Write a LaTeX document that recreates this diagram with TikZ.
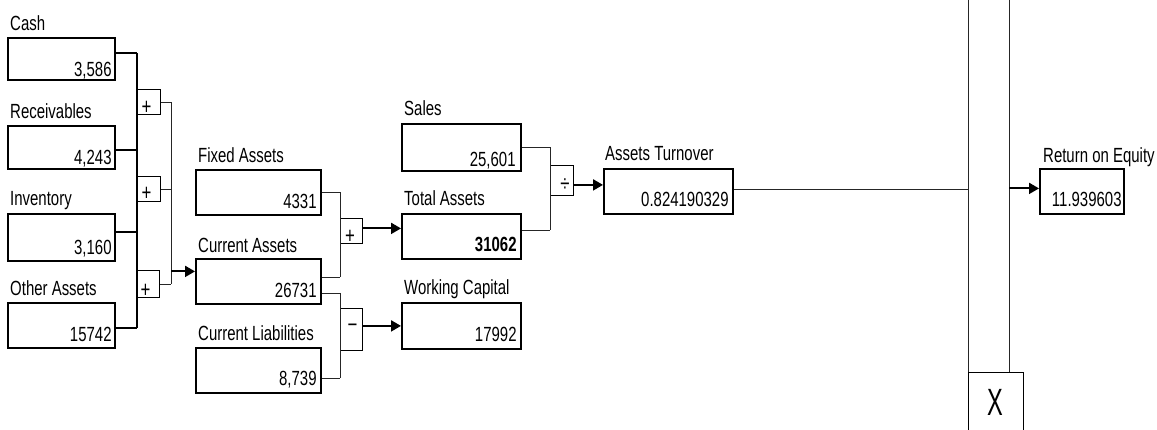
\documentclass[tikz,border=0pt]{standalone}
\usepackage{fontspec}
\setmainfont{Liberation Sans}[FakeStretch=0.73]
\usetikzlibrary{calc,arrows.meta}
\tikzset{
  valbox/.style={draw, line width=1.8pt, inner sep=0pt, anchor=north west},
  opbox/.style={draw, line width=1.1pt, inner sep=0pt, anchor=north west},
  ttl/.style={anchor=base west, inner sep=0pt},
  val/.style={anchor=base east, inner sep=0pt},
  opsym/.style={inner sep=0pt, font=\fontsize{23}{23}\selectfont},
  conn/.style={line width=1.3pt},
  busline/.style={line width=1.8pt},
  thinconn/.style={line width=0.8pt, black!85},
  arr/.style={line width=2pt, -{Triangle[length=10pt,width=11pt]}},
}
\begin{document}
\begin{tikzpicture}[x=1pt,y=-1pt,font=\fontsize{20.5}{22}\selectfont]
\clip (0,0) rectangle (1157,429);
% value boxes
\node[valbox, minimum width=107pt, minimum height=42pt] (cash) at (7,37) {};
\node[valbox, minimum width=107pt, minimum height=43pt] (recv) at (7,125) {};
\node[valbox, minimum width=107pt, minimum height=47pt] (inv) at (7,213) {};
\node[valbox, minimum width=107pt, minimum height=45pt] (oth) at (7,302) {};
\node[valbox, minimum width=125pt, minimum height=45pt] (fa) at (195,169) {};
\node[valbox, minimum width=125pt, minimum height=45pt] (ca) at (195,258) {};
\node[valbox, minimum width=125pt, minimum height=45pt] (cl) at (195,347) {};
\node[valbox, minimum width=119pt, minimum height=47pt] (sales) at (401,123) {};
\node[valbox, minimum width=119pt, minimum height=45pt] (ta) at (401,213) {};
\node[valbox, minimum width=119pt, minimum height=46pt] (wc) at (401,302) {};
\node[valbox, minimum width=129pt, minimum height=45pt] (turn) at (603,168) {};
\node[valbox, minimum width=84pt, minimum height=45pt] (roe) at (1039,168) {};
% titles
\node[ttl] (cashT) at ($(cash.north west)+(3,-7)$) {Cash};
\node[ttl] (recvT) at ($(recv.north west)+(3,-7)$) {Receivables};
\node[ttl] (invT) at ($(inv.north west)+(3,-8)$) {Inventory};
\node[ttl] (othT) at ($(oth.north west)+(3,-7)$) {Other Assets};
\node[ttl] (faT) at ($(fa.north west)+(3,-7)$) {Fixed Assets};
\node[ttl] (caT) at ($(ca.north west)+(3,-6)$) {Current Assets};
\node[ttl] (clT) at ($(cl.north west)+(3,-7)$) {Current Liabilities};
\node[ttl] (salesT) at ($(sales.north west)+(3,-8)$) {Sales};
\node[ttl] (taT) at ($(ta.north west)+(3,-8)$) {Total Assets};
\node[ttl] (wcT) at ($(wc.north west)+(3,-8)$) {Working Capital};
\node[ttl] (turnT) at ($(turn.north west)+(2,-8)$) {Assets Turnover};
\node[ttl] (roeT) at ($(roe.north west)+(4,-6)$) {Return on Equity};
% values
\node[val] (cashV) at ($(cash.south east)+(-4,-4)$) {3,586};
\node[val] (recvV) at ($(recv.south east)+(-4,-5)$) {4,243};
\node[val] (invV) at ($(inv.south east)+(-4,-7)$) {3,160};
\node[val] (othV) at ($(oth.south east)+(-4,-7)$) {15742};
\node[val] (faV) at ($(fa.south east)+(-5,-7)$) {4331};
\node[val] (caV) at ($(ca.south east)+(-5,-7)$) {26731};
\node[val] (clV) at ($(cl.south east)+(-5,-8)$) {8,739};
\node[val] (salesV) at ($(sales.south east)+(-6,-5)$) {25,601};
\node[val, font=\fontsize{20.5}{22}\selectfont\bfseries] (taV) at ($(ta.south east)+(-5,-8)$) {31062};
\node[val] (wcV) at ($(wc.south east)+(-5,-8)$) {17992};
\node[val] (turnV) at ($(turn.south east)+(-5,-8)$) {0.824190329};
\node[val] (roeV) at ($(roe.south east)+(-3,-8)$) {11.939603};
% operator boxes
\node[opbox, minimum width=23pt, minimum height=25pt] (p1) at (137,89) {};
\node[opbox, minimum width=23pt, minimum height=25pt] (p2) at (137,176) {};
\node[opbox, minimum width=22pt, minimum height=27pt] (p3) at (137,270) {};
\node[opbox, minimum width=22pt, minimum height=25pt] (pt) at (340,218) {};
\node[opbox, minimum width=22pt, minimum height=42pt] (mn) at (340,308) {};
\node[opbox, minimum width=23pt, minimum height=30pt] (dv) at (550,165) {};
\node[opbox, line width=0.9pt, minimum width=55pt, minimum height=70pt] (xb) at (968,372) {};
\node[opsym] (p1s) at ($(p1.south west)+(9.5,-7)$) {+};
\node[opsym] (p2s) at ($(p2.south west)+(9.5,-8.5)$) {+};
\node[opsym] (p3s) at ($(p3.south west)+(8.5,-7.5)$) {+};
\node[opsym] (pts) at ($(pt.south west)+(10,-7.5)$) {+};
\node[opsym] (mns) at ($(mn.center)+(1,-1)$) {−};
\node[opsym] (dvs) at ($(dv.center)+(3,5)$) {÷};
\node[inner sep=0pt] (xs) at ($(xb.north)+(-0.5,30)$) {\scalebox{0.85}[1]{\fontsize{38}{40}\selectfont X}};
% bus coordinates
\coordinate (busL) at (137,0);
\coordinate (busM) at (171,0);
\coordinate (busC) at (340,0);
\coordinate (busS) at (550,0);
\coordinate (topR1) at (968,0);
\coordinate (topR2) at (1009,0);
% outputs / inputs
\coordinate (cashO) at ([yshift=6pt]cash.east);
\coordinate (recvO) at ([yshift=-2.5pt]recv.east);
\coordinate (invO) at ([yshift=5.5pt]inv.east);
\coordinate (othO) at ([yshift=-2.5pt]oth.east);
\coordinate (caIn) at ([yshift=10pt]ca.west);
\coordinate (caO1) at ([yshift=4.5pt]ca.east);
\coordinate (caO2) at ([yshift=-11.5pt]ca.east);
\coordinate (clO) at ([yshift=-7.5pt]cl.east);
\coordinate (taIn) at ([yshift=8pt]ta.west);
\coordinate (taO) at ([yshift=6.5pt]ta.east);
\coordinate (turnIn) at ([yshift=6.5pt]turn.west);
\coordinate (turnO) at ([yshift=2.5pt]turn.east);
\coordinate (roeIn) at ([yshift=3pt]roe.west);
% left group
\draw[conn] (cashO) -- (cashO -| busL);
\draw[conn] (recvO) -- (recvO -| busL);
\draw[conn] (invO) -- (invO -| busL);
\draw[conn] (othO) -- (othO -| busL);
\draw[busline] (cashO -| busL) -- (othO -| busL);
\draw[thinconn] (p1.east) -- (p1.east -| busM);
\draw[thinconn] (p2.east) -- (p2.east -| busM);
\draw[thinconn] (p3.east) -- (p3.east -| busM);
\draw[thinconn] (p1.east -| busM) -- (p3.east -| busM);
\draw[arr] (caIn -| busM) -- (caIn);
% middle group
\draw[thinconn] (fa.east) -- (fa.east -| busC);
\draw[thinconn] (caO1) -- (caO1 -| busC);
\draw[thinconn] (fa.east -| busC) -- (caO1 -| busC);
\draw[thinconn] (caO2) -- (caO2 -| busC);
\draw[thinconn] (clO) -- (clO -| busC);
\draw[thinconn] (caO2 -| busC) -- (clO -| busC);
\draw[arr] (taIn -| pt.east) -- (taIn);
\draw[arr] (wc.west -| mn.east) -- (wc.west);
% sales / total assets
\draw[thinconn] (sales.east) -- (sales.east -| busS);
\draw[thinconn] (taO) -- (taO -| busS);
\draw[thinconn] (sales.east -| busS) -- (taO -| busS);
\draw[arr] (turnIn -| dv.east) -- (turnIn);
% right part
\draw[thinconn] (turnO) -- (turnO -| topR1);
\draw[thinconn] (topR1) -- (xb.north west);
\draw[thinconn] (topR2) -- (xb.north -| topR2);
\draw[arr] (roeIn -| topR2) -- (roeIn);
\end{tikzpicture}
\end{document}
